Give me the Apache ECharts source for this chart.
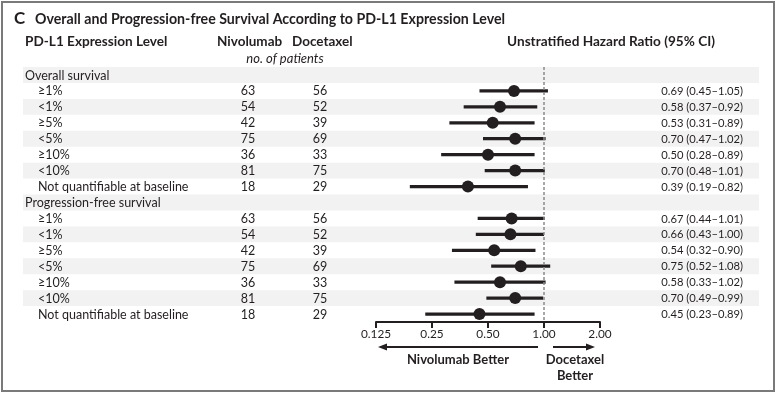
<!DOCTYPE html>
<html><head><meta charset="utf-8">
<script src="https://cdn.jsdelivr.net/npm/echarts@6/dist/echarts.min.js"></script>
<style>html,body{margin:0;padding:0;background:#fff}#c{width:778px;height:394px}</style>
</head><body><div id="c"></div>
<script>
// ---- data ----
const sections = ['Overall survival', 'Progression-free survival'];
const subgroups = ['≥1%', '<1%', '≥5%', '<5%', '≥10%', '<10%', 'Not quantifiable at baseline'];
const osNivo = [63, 54, 42, 75, 36, 81, 18];
const osDoce = [56, 52, 39, 69, 33, 75, 29];
const osHR   = [0.69, 0.58, 0.53, 0.70, 0.50, 0.70, 0.39];
const osLo   = [0.45, 0.37, 0.31, 0.47, 0.28, 0.48, 0.19];
const osHi   = [1.05, 0.92, 0.89, 1.02, 0.89, 1.01, 0.82];
const pfsNivo = [63, 54, 42, 75, 36, 81, 18];
const pfsDoce = [56, 52, 39, 69, 33, 75, 29];
const pfsHR   = [0.67, 0.66, 0.54, 0.75, 0.58, 0.70, 0.45];
const pfsLo   = [0.44, 0.43, 0.32, 0.52, 0.33, 0.49, 0.23];
const pfsHi   = [1.01, 1.00, 0.90, 1.08, 1.02, 0.99, 0.89];
const tickLabels = ['0.125', '0.25', '0.50', '1.00', '2.00'];

// ---- build rows ----
const FONT = 'Lato';
const INK = '#231f20';
const groups = [
  { nivo: osNivo, doce: osDoce, hr: osHR, lo: osLo, hi: osHi },
  { nivo: pfsNivo, doce: pfsDoce, hr: pfsHR, lo: pfsLo, hi: pfsHi }
];
const rows = [];
sections.forEach((s, si) => {
  rows.push({ header: true, label: s });
  const g = groups[si];
  subgroups.forEach((sg, i) => {
    rows.push({ header: false, label: sg, nivo: g.nivo[i], doce: g.doce[i], hr: g.hr[i], lo: g.lo[i], hi: g.hi[i] });
  });
});
const nRows = rows.length;
const stripeData = rows.map((r, i) => i).filter(i => i % 2 === 0).map(i => [1, i]);
const ciData = [], ptData = [], textData = [];
rows.forEach((r, i) => {
  textData.push([1, i]);
  if (!r.header) { ciData.push([r.lo, r.hi, i]); ptData.push([r.hr, i]); }
});
const f2 = v => v.toFixed(2);

const chart = echarts.init(document.getElementById('c'));
const option = {
  animation: false,
  grid: { left: 376, right: 178, top: 67, bottom: 72 },
  xAxis: {
    type: 'log', logBase: 2, min: 0.125, max: 2, splitNumber: 4, position: 'bottom',
    axisLine: { show: true, onZero: false, lineStyle: { color: INK, width: 2 } },
    axisTick: { show: true, length: 6, lineStyle: { color: INK, width: 2 } },
    splitLine: { show: false },
    axisLabel: {
      color: INK, fontFamily: FONT, fontSize: 11.8, margin: 6,
      formatter: v => tickLabels[Math.round(Math.log2(v)) + 3] || ''
    }
  },
  yAxis: { type: 'value', min: -0.5, max: nRows - 0.5, inverse: true, show: false },
  series: [
    {
      type: 'custom', z: 0, silent: true,
      data: stripeData, encode: { x: 0, y: 1 },
      renderItem: (params, api) => {
        const y = api.coord([1, api.value(1)])[1];
        const h = api.size([0, 1])[1];
        return { type: 'rect', shape: { x: 23, y: y - h / 2, width: 736, height: h }, style: { fill: '#f2f2f2' } };
      }
    },
    {
      type: 'custom', z: 2, silent: true,
      data: ciData, encode: { x: [0, 1], y: 2 },
      renderItem: (params, api) => {
        const a = api.coord([api.value(0), api.value(2)]);
        const b = api.coord([api.value(1), api.value(2)]);
        return { type: 'line', shape: { x1: a[0], y1: a[1], x2: b[0], y2: b[1] }, style: { stroke: INK, lineWidth: 3.2 } };
      }
    },
    {
      type: 'scatter', z: 3, silent: true, symbol: 'circle', symbolSize: 12,
      itemStyle: { color: INK, opacity: 1 },
      data: ptData,
      markLine: {
        silent: true, symbol: 'none', animation: false,
        label: { show: false },
        lineStyle: { color: '#8a8a8a', type: [3, 2], width: 1.5 },
        data: [{ xAxis: 1 }]
      }
    },
    {
      type: 'custom', z: 4, silent: true,
      data: textData, encode: { x: 0, y: 1 },
      renderItem: (params, api) => {
        const i = api.value(1);
        const r = rows[i];
        const y = api.coord([1, i])[1] + 0.5;
        const base = { fill: INK, font: '12.5px ' + FONT, verticalAlign: 'middle' };
        const ch = [];
        ch.push({ type: 'text', style: Object.assign({}, base, { text: r.label, x: r.header ? 25 : 38, y, align: 'left' }) });
        if (!r.header) {
          ch.push({ type: 'text', style: Object.assign({}, base, { text: String(r.nivo), x: 248, y, align: 'center' }) });
          ch.push({ type: 'text', style: Object.assign({}, base, { text: String(r.doce), x: 320, y, align: 'center' }) });
          ch.push({ type: 'text', style: Object.assign({}, base, { font: '11.2px ' + FONT, text: f2(r.hr) + ' (' + f2(r.lo) + '–' + f2(r.hi) + ')', x: 743, y, align: 'right' }) });
        }
        return { type: 'group', children: ch };
      }
    }
  ],
  graphic: [
    { type: 'rect', shape: { x: 2, y: 2, width: 772, height: 389 }, style: { fill: 'none', stroke: '#7a7a7a', lineWidth: 2 }, silent: true, z: 10 },
    { type: 'text', style: { text: 'C', x: 14, y: 19, font: 'bold 17px ' + FONT, fill: INK, verticalAlign: 'middle' } },
    { type: 'text', style: { text: 'Overall and Progression-free Survival According to PD-L1 Expression Level', x: 35, y: 19, font: 'bold 14.2px ' + FONT, fill: INK, verticalAlign: 'middle' } },
    { type: 'text', style: { text: 'PD-L1 Expression Level', x: 25, y: 42, font: 'bold 13.6px ' + FONT, fill: INK, verticalAlign: 'middle' } },
    { type: 'text', style: { text: 'Nivolumab', x: 217, y: 42, font: 'bold 13.5px ' + FONT, fill: INK, verticalAlign: 'middle' } },
    { type: 'text', style: { text: 'Docetaxel', x: 292, y: 42, font: 'bold 13.5px ' + FONT, fill: INK, verticalAlign: 'middle' } },
    { type: 'text', style: { text: 'no. of patients', x: 285, y: 59, align: 'center', font: 'italic 13px ' + FONT, fill: INK, verticalAlign: 'middle' } },
    { type: 'text', style: { text: 'Unstratified Hazard Ratio (95% CI)', x: 611, y: 42, align: 'center', font: 'bold 13.6px ' + FONT, fill: INK, verticalAlign: 'middle' } }
  ]
};
chart.setOption(option);

// arrows and direction labels placed from the axis scale
const px = v => chart.convertToPixel({ xAxisIndex: 0 }, v);
const xMin = px(0.125), xOne = px(1), xMax = px(2);
const ay = 347;
const head = (tipX, dir) => ({
  type: 'polygon', silent: true,
  shape: { points: [[tipX, ay], [tipX - dir * 9, ay - 3.5], [tipX - dir * 9, ay + 3.5]] },
  style: { fill: INK }
});
chart.setOption({
  graphic: option.graphic.concat([
    { type: 'line', silent: true, shape: { x1: xOne - 6, y1: ay, x2: xMin + 8, y2: ay }, style: { stroke: INK, lineWidth: 2 } },
    head(xMin + 2, -1),
    { type: 'line', silent: true, shape: { x1: xOne + 9, y1: ay, x2: xMax - 12, y2: ay }, style: { stroke: INK, lineWidth: 2 } },
    head(xMax - 5, 1),
    { type: 'text', style: { text: 'Nivolumab Better', x: (xMin + xOne) / 2 - 2, y: 360, align: 'center', font: 'bold 13px ' + FONT, fill: INK, verticalAlign: 'middle' } },
    { type: 'text', style: { text: 'Docetaxel', x: (xOne + xMax) / 2 + 3, y: 360, align: 'center', font: 'bold 13px ' + FONT, fill: INK, verticalAlign: 'middle' } },
    { type: 'text', style: { text: 'Better', x: (xOne + xMax) / 2 + 3, y: 376, align: 'center', font: 'bold 13px ' + FONT, fill: INK, verticalAlign: 'middle' } }
  ])
});
</script>
</body></html>
